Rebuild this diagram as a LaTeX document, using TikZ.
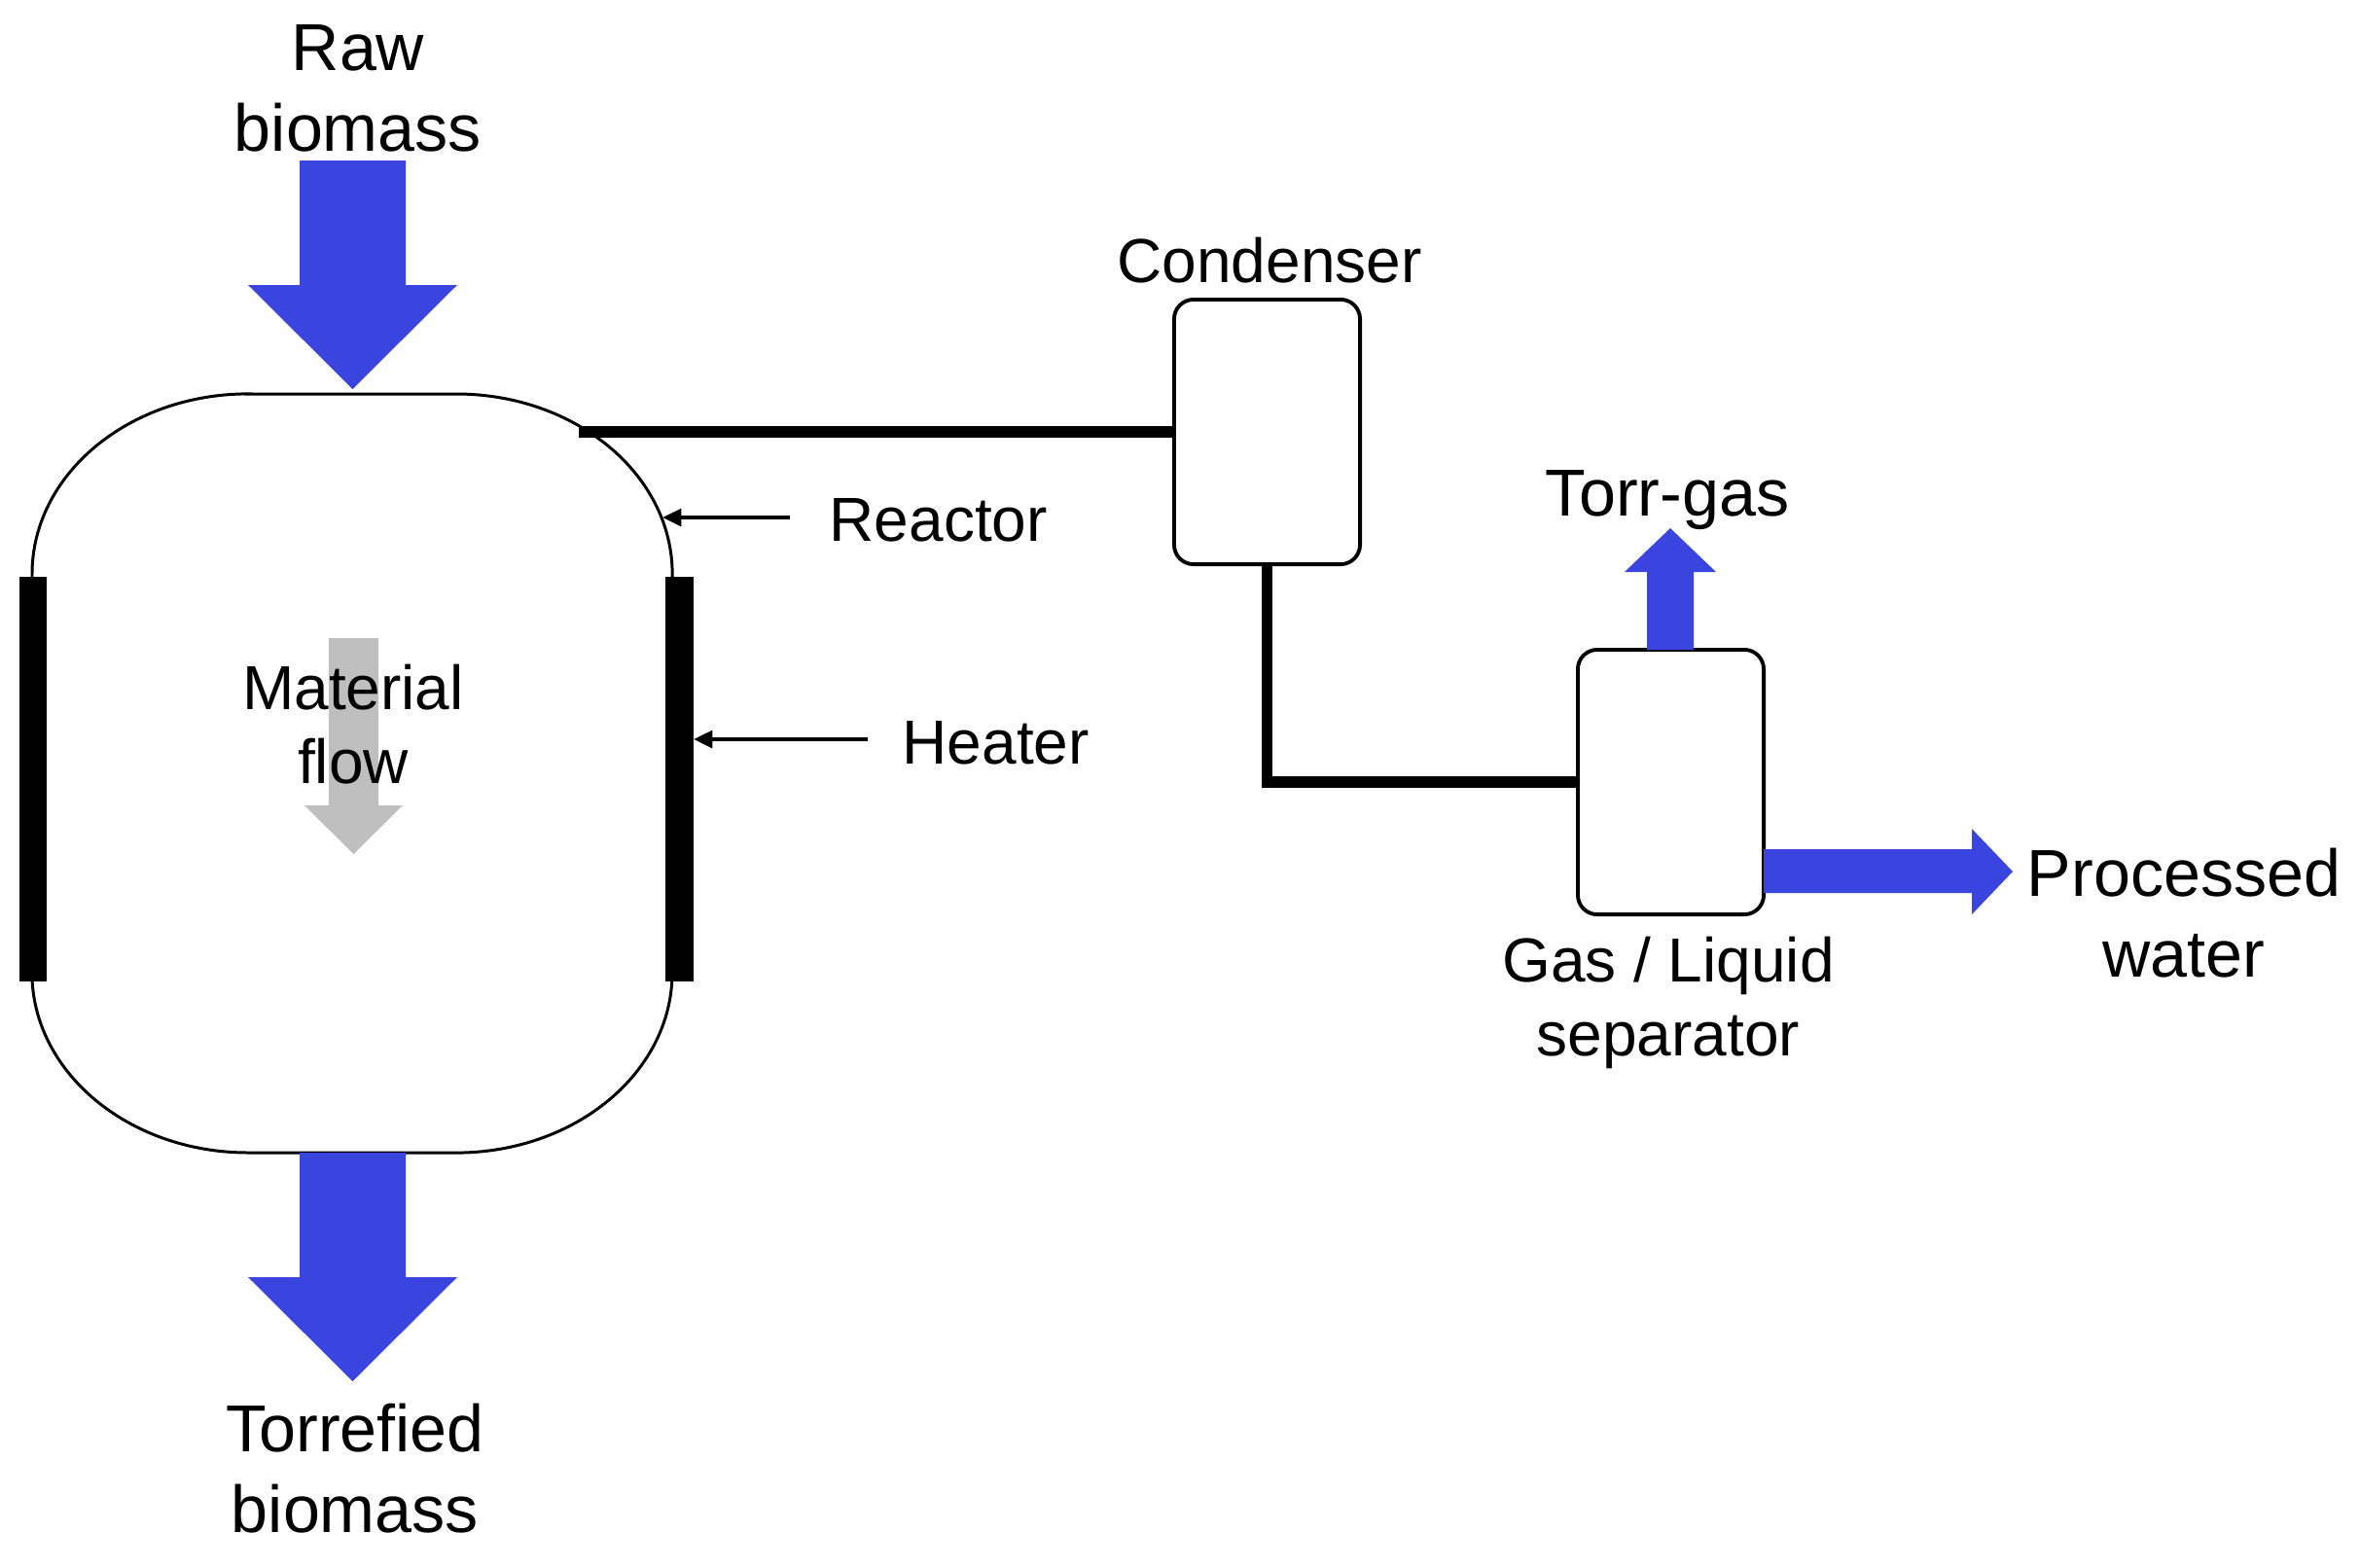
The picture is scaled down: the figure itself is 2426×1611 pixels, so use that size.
\documentclass[tikz,border=0pt]{standalone}
\usepackage{fontspec}
\setmainfont{Liberation Sans}
\usetikzlibrary{arrows.meta}
\definecolor{flowblue}{RGB}{58,68,222}
\definecolor{flowgray}{RGB}{191,191,191}
\newcommand{\bigtxt}{\fontsize{19.4pt}{23.6pt}\selectfont}
\newcommand{\smalltxt}{\fontsize{18.2pt}{21.6pt}\selectfont}
\begin{document}
\begin{tikzpicture}[x=0.01cm,y=-0.01cm,
  biglabel/.style={inner sep=0pt, font=\bigtxt, align=center},
  smalllabel/.style={inner sep=0pt, font=\smalltxt, align=center},
  unitbox/.style={draw, line width=1.1pt, rounded corners=0.2cm, minimum width=1.91cm, minimum height=2.72cm, inner sep=0pt, fill=white},
  vesselline/.style={line width=0.85pt},
  pipe/.style={line width=3.4pt},
  pointer/.style={line width=1.15pt, -{Triangle[length=5.5pt,width=5pt]}},
  heaterbar/.style={fill=black}
]
\useasboundingbox (0,0) rectangle (2426,1611);

% reactor vessel
\draw[vesselline] (255,405) -- (469,405)
  arc[start angle=90, end angle=0, x radius=2.22cm, y radius=1.85cm]
  -- (691,1000)
  arc[start angle=0, end angle=-90, x radius=2.22cm, y radius=1.85cm]
  -- (255,1185)
  arc[start angle=270, end angle=180, x radius=2.22cm, y radius=1.85cm]
  -- (33,590)
  arc[start angle=180, end angle=90, x radius=2.22cm, y radius=1.85cm]
  -- cycle;

% heaters
\fill[heaterbar] (20,593) rectangle (48,1009);
\fill[heaterbar] (684,593) rectangle (713,1009);

% material flow arrow
\fill[flowgray] (338,656) -- (389,656) -- (389,828) -- (414,828) -- (363.5,878)
  -- (313,828) -- (338,828) -- cycle;
\node[smalllabel, anchor=base] (matflow) at (363,805) {Material\\flow};

% raw biomass in
\node[biglabel, anchor=base] (raw) at (368,155) {Raw\\biomass};
\fill[flowblue] (308,165) -- (417,165) -- (417,293) -- (470,293) -- (362.5,400)
  -- (255,293) -- (308,293) -- cycle;

% torrefied biomass out
\fill[flowblue] (308,1185) -- (417,1185) -- (417,1313) -- (470,1313) -- (362.5,1420)
  -- (255,1313) -- (308,1313) -- cycle;
\node[biglabel, anchor=base] (torr) at (365,1575) {Torrefied\\biomass};

% units
\node[unitbox] (cond) at (1302.5,444) {};
\node[smalllabel, anchor=base] (condlbl) at (1305,290) {Condenser};
\node[unitbox] (sep) at (1717.5,804) {};
\node[smalllabel, anchor=base] (seplbl) at (1715,1085) {Gas / Liquid\\separator};

% pipes
\coordinate (pipestart) at (595,444);
\draw[pipe] (pipestart) -- (cond.west);
\draw[pipe] (cond.south) |- (sep.west);

% torr-gas out
\fill[flowblue] (1693,668) -- (1741,668) -- (1741,588) -- (1764,588) -- (1717,543)
  -- (1670,588) -- (1693,588) -- cycle;
\node[biglabel, anchor=base] (gaslbl) at (1714,530) {Torr-gas};

% processed water out
\fill[flowblue] (1813,873) -- (2027,873) -- (2027,852) -- (2069,896) -- (2027,940)
  -- (2027,918) -- (1813,918) -- cycle;
\node[biglabel, anchor=base] (waterlbl) at (2245,1004) {Processed\\water};

% labels with pointers
\node[smalllabel, anchor=base west] (reactorlbl) at (852,556) {Reactor};
\node[smalllabel, anchor=base west] (heaterlbl) at (927,785) {Heater};
\coordinate (rtail) at (812,532);
\coordinate (rtip) at (681,532);
\coordinate (htail) at (892,760);
\coordinate (htip) at (713,760);
\draw[pointer] (rtail) -- (rtip);
\draw[pointer] (htail) -- (htip);
\end{tikzpicture}
\end{document}
